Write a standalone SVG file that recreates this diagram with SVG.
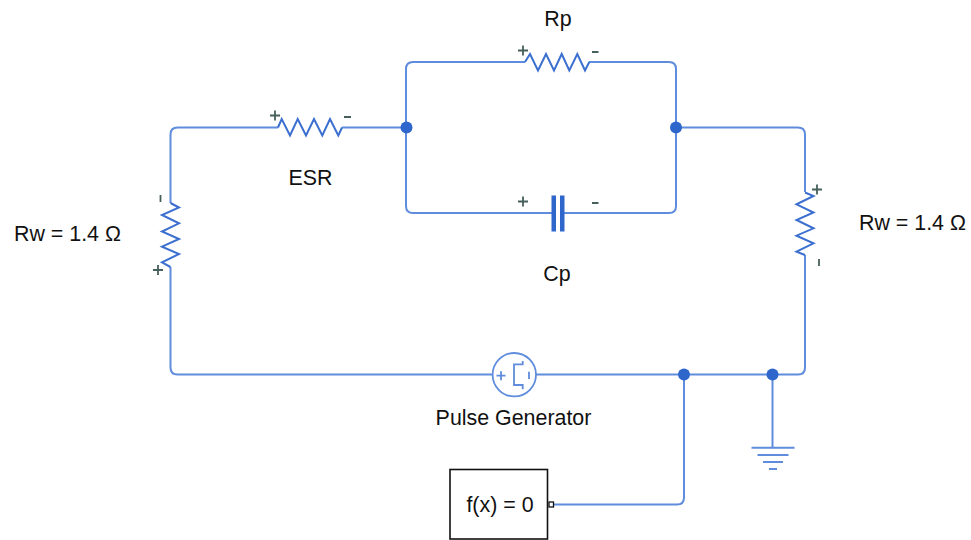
<svg xmlns="http://www.w3.org/2000/svg" width="971" height="540" viewBox="0 0 971 540">
<style>
.w{fill:none;stroke:#5f8cdc;stroke-width:2}
.c{fill:none;stroke:#3b6fd0;stroke-width:2}
.p{fill:none;stroke:#46605c;stroke-width:1.800}
.d{fill:#2f66cc}
.t{font-family:"Liberation Sans",Arial,sans-serif;font-size:21.400px;fill:#111}
</style>
<rect width="971" height="540" fill="#fff"/>
<g id="connectors">
<path class="w" d="M278 127.500H177.500Q170.500 127.500 170.500 134.500V203"/>
<path class="w" d="M170.500 267V367.500Q170.500 374.500 177.500 374.500H492.500"/>
<path class="w" d="M342 127.500H406"/>
<path class="w" d="M406 127.500V69Q406 62 413 62H525"/>
<path class="w" d="M406 127.500V206Q406 213 413 213H553"/>
<path class="w" d="M589 62H669Q676 62 676 69V206Q676 213 669 213H564"/>
<path class="w" d="M676 127.500H798Q805 127.500 805 134.500V192"/>
<path class="w" d="M805 255V367.500Q805 374.500 798 374.500H536"/>
<path class="w" d="M684 374.500V497.500Q684 504.500 677 504.500H553"/>
<path class="w" d="M772.500 374.500V447.500"/>
</g>
<g id="junctions">
<circle class="d" cx="406.500" cy="127.500" r="6"/>
<circle class="d" cx="676" cy="127.500" r="6"/>
<circle class="d" cx="684" cy="374.500" r="6"/>
<circle class="d" cx="772.500" cy="374.500" r="6"/>
</g>
<g id="esr">
<path class="c" d="M278 127.500L281.700 119L290 135.500L297.700 119L306 135.500L314 119L322.300 135.500L330 119L338.300 135.500L342 127.500"/>
<path class="p" d="M270 115.500h10M275 110.500v10M344 117h7"/>
<text class="t" x="310.500" y="185" text-anchor="middle">ESR</text>
</g>
<g id="rp">
<path class="c" d="M525 62L530 54L538 70.500L546 54L554 70.500L561.700 54L569.300 70.500L577.300 54L585 70.500L589.300 62"/>
<path class="p" d="M518 50.500h10M523 45.500v10M592 52h6.500"/>
<text class="t" x="558" y="26" text-anchor="middle">Rp</text>
</g>
<g id="cp">
<rect class="d" x="551.500" y="195.500" width="4.500" height="36"/>
<rect class="d" x="560" y="195.500" width="4.500" height="36"/>
<path class="p" d="M518 201.500h10M523 196.500v10M592 203h6.500"/>
<text class="t" x="557" y="281" text-anchor="middle">Cp</text>
</g>
<g id="rw-left">
<path class="c" d="M170.500 203L179 207.500L162 215L179 223.300L162 231.500L179 239L162 246.700L179 254L162 262.300L170.500 267"/>
<path class="p" d="M160.500 195v7M153 270h10M158 265v10"/>
<text class="t" x="14" y="241">Rw = 1.4 Ω</text>
</g>
<g id="rw-right">
<path class="c" d="M805 192.500L813.500 196L796.500 204.300L813.500 212.500L796.500 220L813.500 228.300L796.500 235.700L813.500 243.300L796.500 251.700L805 255"/>
<path class="p" d="M812 189.500h10M817 184.500v10M819 259v7"/>
<text class="t" x="859" y="230">Rw = 1.4 Ω</text>
</g>
<g id="pulse-generator">
<circle cx="514.300" cy="374.700" r="21.700" fill="#fff" stroke="#5f8cdc" stroke-width="1.800"/>
<path d="M522.700 361V364.300H514V385H522.700V389.300M529 371.700V379M496.500 375.700h9M501 371.200v9" fill="none" stroke="#5f8cdc" stroke-width="1.800"/>
<text class="t" x="513.500" y="425" text-anchor="middle">Pulse Generator</text>
</g>
<g id="ground">
<path d="M751.500 447.700H794.500M757.500 455H788.500M763 462H783M769 469H777" fill="none" stroke="#5f8cdc" stroke-width="2"/>
</g>
<g id="solver">
<rect x="450" y="469.500" width="97.500" height="69.500" fill="#fff" stroke="#111" stroke-width="1.600"/>
<text class="t" x="500" y="512" text-anchor="middle">f(x) = 0</text>
<rect x="549" y="502" width="4.500" height="5" fill="#fff" stroke="#111" stroke-width="1.300"/>
</g>
</svg>
